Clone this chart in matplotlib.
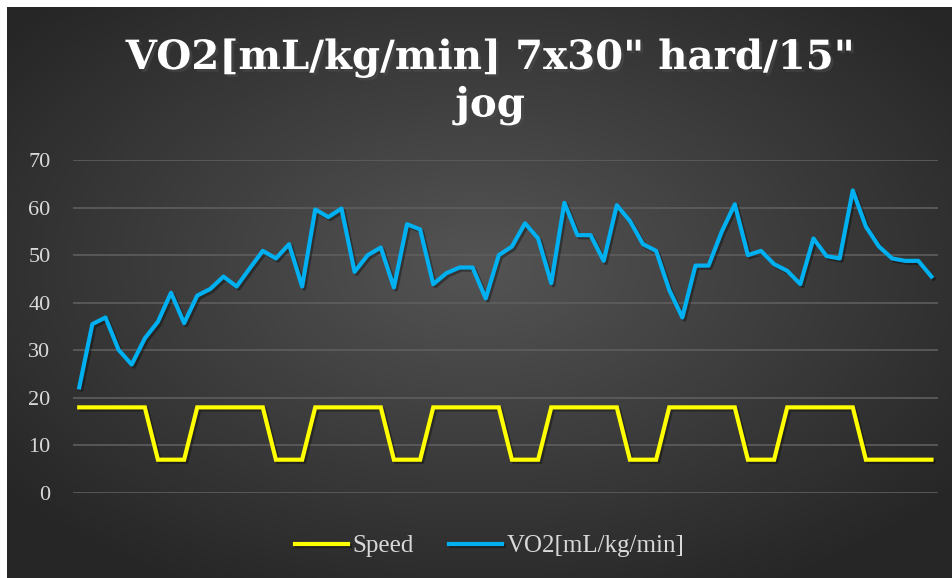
import numpy as np
import matplotlib
matplotlib.use("Agg")
import matplotlib.pyplot as plt
import matplotlib.patheffects as pe

# speed: 7 x (30" hard / 15" jog), then a longer jog at the end
speed = [18, 18, 18, 18, 18, 18, 7, 7, 7] * 7 + [7, 7, 7]

vo2 = [22.2, 35.5, 36.9, 30.1, 27.0, 32.5, 36.0, 42.1, 35.7, 41.5,
       42.9, 45.5, 43.4, 47.2, 50.9, 49.3, 52.3, 43.4, 59.6, 58.0,
       59.8, 46.5, 50.0, 51.6, 43.2, 56.5, 55.4, 43.9, 46.2, 47.4,
       47.4, 40.9, 50.0, 51.8, 56.7, 53.5, 44.1, 61.0, 54.2, 54.2,
       48.8, 60.5, 57.2, 52.3, 50.9, 42.7, 36.9, 47.8, 47.8, 54.9,
       60.7, 50.0, 50.9, 48.1, 46.7, 43.9, 53.5, 49.8, 49.3, 63.6,
       56.0, 51.8, 49.3, 48.8, 48.8, 45.5]

yticks = [0, 10, 20, 30, 40, 50, 60, 70]
title = 'VO2[mL/kg/min] 7x30" hard/15"\njog'

W, H = 952, 578
fig = plt.figure(figsize=(W / 100, H / 100), dpi=100)
fig.patch.set_facecolor("white")

# radial gradient background (leaves a thin white strip top/left)
bg = fig.add_axes([7 / W, 0, 1 - 7 / W, 1 - 7 / H])
bg.set_axis_off()
yy, xx = np.mgrid[0:1:300j, 0:1:500j]
r = np.sqrt(((xx - 0.5) / 0.75) ** 2 + ((yy - 0.45) / 0.75) ** 2)
shade = np.clip(0.33 - 0.21 * r, 0.15, 0.34)
bg.imshow(np.dstack([shade] * 3), aspect="auto", extent=[0, 1, 0, 1],
          interpolation="bicubic")

x = np.arange(len(vo2))
ax = fig.add_axes([72.7 / W, 1 - 493 / H, (938 - 72.7) / W, 333 / H])
ax.set_facecolor("none")
shadow = [pe.SimpleLineShadow(offset=(1.5, -1.5), alpha=0.35, shadow_color="black"), pe.Normal()]
ax.plot(x, speed, color="#ffff00", lw=3, label="Speed", path_effects=shadow,
        solid_joinstyle="miter", zorder=3)
ax.plot(x, vo2, color="#00b0f0", lw=3, label="VO2[mL/kg/min]", path_effects=shadow,
        solid_joinstyle="round", zorder=3)

ax.set_xlim(-0.5, len(vo2) - 0.5)
ax.set_ylim(0, 70)
ax.set_yticks(yticks)
ax.set_xticks([])
ax.grid(axis="y", color="#5e5e5e", lw=1.2)
ax.set_axisbelow(True)
for s in ax.spines.values():
    s.set_visible(False)
ax.tick_params(axis="y", length=0, pad=16, labelcolor="#d9d9d9", labelsize=16)
for lbl in ax.get_yticklabels():
    lbl.set_fontfamily("Liberation Serif")

fig.text(490 / W, 1 - 82 / H, title, ha="center", va="center", color="white",
         fontsize=29, fontweight="bold", fontfamily="DejaVu Serif",
         linespacing=1.3,
         path_effects=[pe.withSimplePatchShadow(offset=(2, -2), alpha=0.5)])

leg = fig.legend(loc="center", bbox_to_anchor=(490 / W, 1 - 546 / H), ncol=2,
                 frameon=False, prop={"family": "Liberation Serif", "size": 18},
                 handlelength=2.1, handletextpad=0.2, columnspacing=1.4)
for t in leg.get_texts():
    t.set_color("#d9d9d9")

fig.savefig("out.png", dpi=100, facecolor=fig.get_facecolor())
